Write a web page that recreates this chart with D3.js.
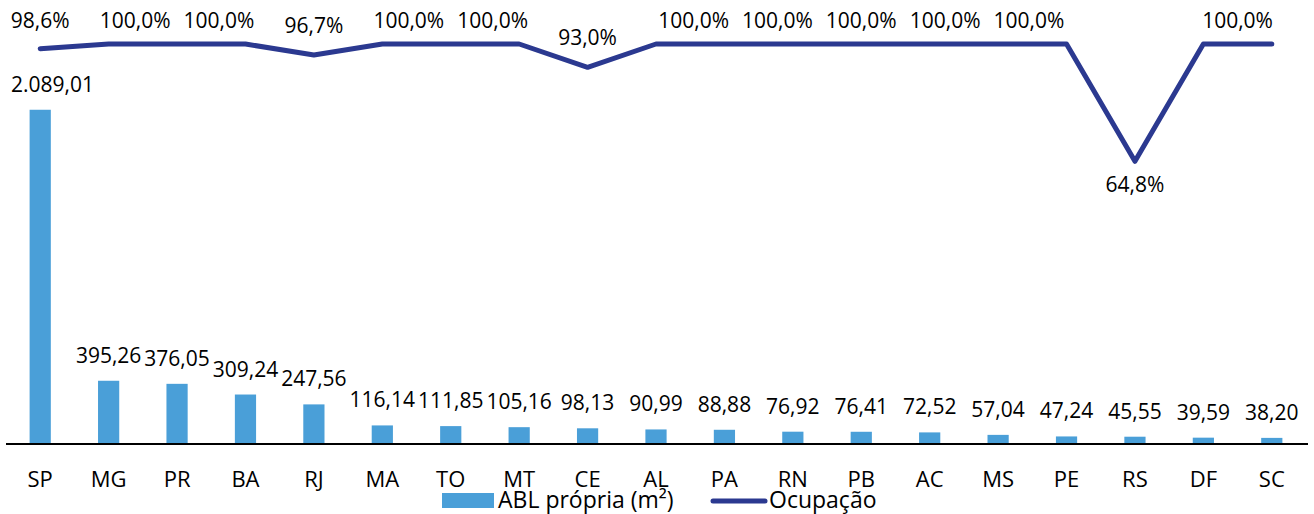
<!DOCTYPE html>
<html>
<head>
<meta charset="utf-8">
<script src="https://cdn.jsdelivr.net/npm/d3@7"></script>
<style>
  body { margin: 0; background: #fff; }
  text { font-family: "Open Sans", "Noto Sans", sans-serif; fill: #000; }
</style>
</head>
<body>
<svg id="chart" width="1314" height="514"></svg>
<script>
// estados e valores
var estados = ['SP','MG','PR','BA','RJ','MA','TO','MT','CE','AL','PA','RN','PB','AC','MS','PE','RS','DF','SC'];
var abl = [2089.01, 395.26, 376.05, 309.24, 247.56, 116.14, 111.85, 105.16, 98.13, 90.99, 88.88, 76.92, 76.41, 72.52, 57.04, 47.24, 45.55, 39.59, 38.20];
var ocupacao = [98.6, 100.0, 100.0, 100.0, 96.7, 100.0, 100.0, 100.0, 93.0, 100.0, 100.0, 100.0, 100.0, 100.0, 100.0, 100.0, 64.8, 100.0, 100.0];
var legenda = ['ABL própria (m²)', 'Ocupação'];

var corBarra = '#4A9FD8';
var corLinha = '#2B3990';

var svg = d3.select('#chart');

var x = d3.scaleBand()
  .domain(estados)
  .range([6, 1306])
  .paddingInner(0.69)
  .paddingOuter(0.345);

var cx = d => x(d) + x.bandwidth() / 2;

var y = d3.scaleLinear()
  .domain([0, 2500])
  .range([444, 44]);

var y2 = d3.scaleLinear()
  .domain([-20, 100])
  .range([444, 44]);

var fmt = d3.formatLocale({decimal: ',', thousands: '.', grouping: [3], currency: ['R$', '']});
var fmtAbl = fmt.format(',.2f');
var fmtPct = fmt.format('.1f');

// barras
svg.append('g')
  .selectAll('rect')
  .data(abl)
  .join('rect')
  .attr('x', (d, i) => x(estados[i]))
  .attr('y', d => y(d))
  .attr('width', x.bandwidth())
  .attr('height', d => y(0) - y(d))
  .attr('fill', corBarra);

svg.append('g')
  .selectAll('text')
  .data(abl)
  .join('text')
  .attr('x', (d, i) => cx(estados[i]))
  .attr('y', d => y(d) - 18)
  .attr('text-anchor', 'middle')
  .style('font-size', '21px')
  .text(d => fmtAbl(d))
  .each(function() {
    // não deixa o rótulo sair pela esquerda
    var bb = this.getBBox();
    if (bb.x < 11) d3.select(this).attr('x', +d3.select(this).attr('x') + (11 - bb.x));
  });

// eixo x
svg.append('line')
  .attr('x1', 6)
  .attr('x2', 1308)
  .attr('y1', y(0))
  .attr('y2', y(0))
  .attr('stroke', '#000')
  .attr('stroke-width', 2);

svg.append('g')
  .selectAll('text')
  .data(estados)
  .join('text')
  .attr('x', d => cx(d))
  .attr('y', 487)
  .attr('text-anchor', 'middle')
  .style('font-size', '22px')
  .text(d => d);

// linha de ocupação
var linha = d3.line()
  .x((d, i) => cx(estados[i]))
  .y(d => y2(d));

svg.append('path')
  .datum(ocupacao)
  .attr('d', linha)
  .attr('fill', 'none')
  .attr('stroke', corLinha)
  .attr('stroke-width', 5)
  .attr('stroke-linecap', 'round')
  .attr('stroke-linejoin', 'round');

// rótulos: pontos isolados no próprio ponto, trechos de 100% espalhados sem sobrepor
var rotulos = [];
var i = 0;
while (i < ocupacao.length) {
  var j = i;
  while (j + 1 < ocupacao.length && ocupacao[j + 1] == ocupacao[i]) j++;
  if (j == i) {
    var v = ocupacao[i];
    var baixo = i > 0 && i < ocupacao.length - 1 && v < ocupacao[i - 1] && v < ocupacao[i + 1] && v < 80;
    rotulos.push({v: v, x: cx(estados[i]), y: baixo ? y2(v) + 31 : Math.max(y2(v) - 22, 28)});
  } else {
    var a = cx(estados[i]), b = cx(estados[j]);
    rotulos.push({v: ocupacao[i], run: [a, b], y: Math.max(y2(ocupacao[i]) - 22, 28)});
  }
  i = j + 1;
}

var gRot = svg.append('g');
var medida = gRot.append('text').style('font-size', '21px').text(fmtPct(100) + '%');
var w = medida.node().getComputedTextLength();
medida.remove();

var finais = [];
rotulos.forEach(r => {
  if (!r.run) { finais.push(r); return; }
  var span = r.run[1] - r.run[0];
  var n = Math.max(1, Math.floor((span + w) / (w + 20)));
  var meio = (r.run[0] + r.run[1]) / 2;
  for (var k = 0; k < n; k++)
    finais.push({v: r.v, x: meio + (k - (n - 1) / 2) * (w + 13), y: r.y});
});

gRot.selectAll('text')
  .data(finais)
  .join('text')
  .attr('x', d => d.x)
  .attr('y', d => d.y)
  .attr('text-anchor', 'middle')
  .style('font-size', '21px')
  .text(d => fmtPct(d.v) + '%');

// legenda
var leg = svg.append('g');
leg.append('rect')
  .attr('x', 442)
  .attr('y', 493)
  .attr('width', 52)
  .attr('height', 15)
  .attr('fill', corBarra);
leg.append('text')
  .attr('x', 498)
  .attr('y', 508)
  .style('font-size', '23px')
  .text(legenda[0]);
leg.append('line')
  .attr('x1', 713)
  .attr('x2', 765)
  .attr('y1', 501)
  .attr('y2', 501)
  .attr('stroke', corLinha)
  .attr('stroke-width', 5)
  .attr('stroke-linecap', 'round');
leg.append('text')
  .attr('x', 769)
  .attr('y', 508)
  .style('font-size', '23px')
  .text(legenda[1]);
</script>
</body>
</html>
